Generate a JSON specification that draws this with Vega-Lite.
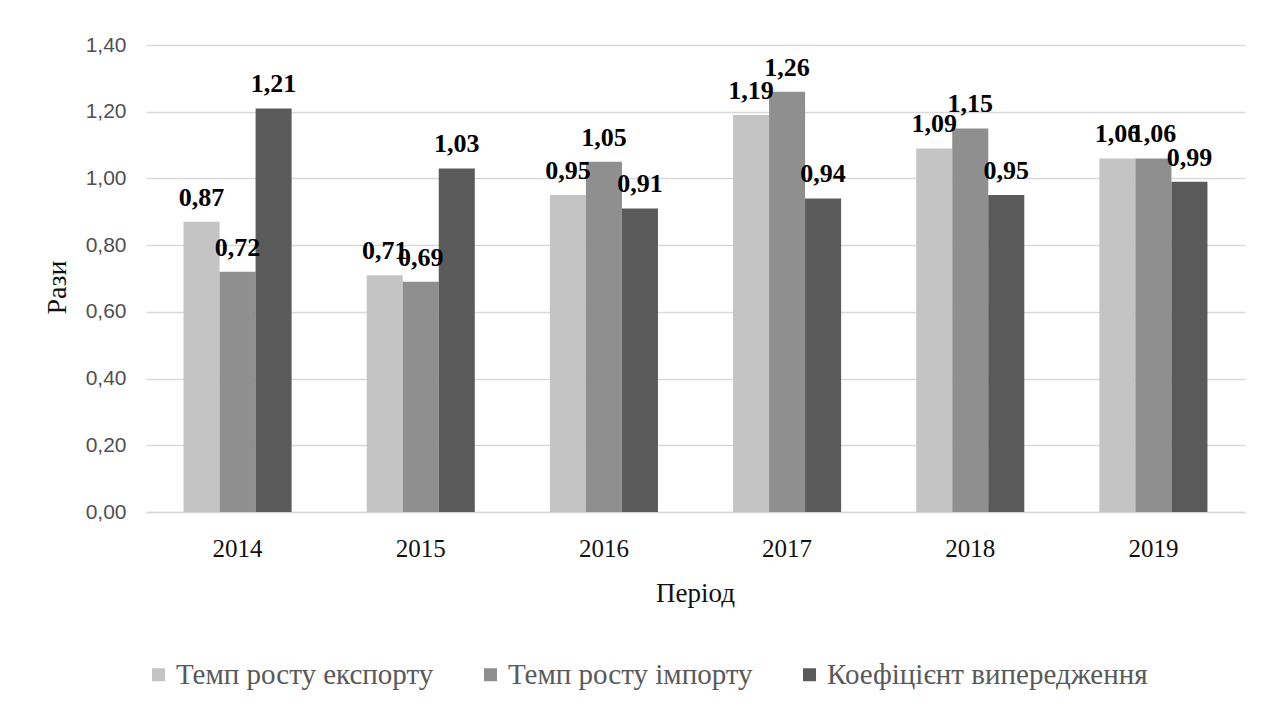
{
  "$schema": "https://vega.github.io/schema/vega-lite/v6.json",
  "autosize": {"type": "none"},
  "width": 1099,
  "height": 467,
  "padding": {"left": 146, "top": 45, "right": 32, "bottom": 206},
  "background": "white",
  "config": {
    "locale": {"number": {"decimal": ",", "thousands": " ", "grouping": [3], "currency": ["", " грн"]}},
    "view": {"stroke": null},
    "font": "Liberation Serif"
  },
  "data": {
    "values": [
      {"year": "2014", "series": "Темп росту експорту", "value": 0.87},
      {"year": "2014", "series": "Темп росту імпорту", "value": 0.72},
      {"year": "2014", "series": "Коефіцієнт випередження", "value": 1.21},
      {"year": "2015", "series": "Темп росту експорту", "value": 0.71},
      {"year": "2015", "series": "Темп росту імпорту", "value": 0.69},
      {"year": "2015", "series": "Коефіцієнт випередження", "value": 1.03},
      {"year": "2016", "series": "Темп росту експорту", "value": 0.95},
      {"year": "2016", "series": "Темп росту імпорту", "value": 1.05},
      {"year": "2016", "series": "Коефіцієнт випередження", "value": 0.91},
      {"year": "2017", "series": "Темп росту експорту", "value": 1.19},
      {"year": "2017", "series": "Темп росту імпорту", "value": 1.26},
      {"year": "2017", "series": "Коефіцієнт випередження", "value": 0.94},
      {"year": "2018", "series": "Темп росту експорту", "value": 1.09},
      {"year": "2018", "series": "Темп росту імпорту", "value": 1.15},
      {"year": "2018", "series": "Коефіцієнт випередження", "value": 0.95},
      {"year": "2019", "series": "Темп росту експорту", "value": 1.06},
      {"year": "2019", "series": "Темп росту імпорту", "value": 1.06},
      {"year": "2019", "series": "Коефіцієнт випередження", "value": 0.99}
    ]
  },
  "encoding": {
    "x": {
      "field": "year", "type": "nominal", "title": "Період",
      "scale": {"paddingInner": 0.41, "paddingOuter": 0.205},
      "axis": {
        "labelAngle": 0, "domain": true, "domainColor": "#d9d9d9", "domainWidth": 1.5, "ticks": false,
        "labelFont": "Liberation Serif", "labelFontSize": 25, "labelColor": "#111111", "labelPadding": 24,
        "titleFont": "Liberation Serif", "titleFontSize": 27, "titleFontWeight": "normal", "titleColor": "#111111",
        "titleX": 549, "titleY": 81, "titleBaseline": "middle", "titleAlign": "center"
      }
    },
    "xOffset": {
      "field": "series", "type": "nominal",
      "sort": ["Темп росту експорту", "Темп росту імпорту", "Коефіцієнт випередження"],
      "scale": {"paddingInner": 0, "paddingOuter": 0}
    },
    "y": {
      "field": "value", "type": "quantitative", "title": "Рази",
      "scale": {"domain": [0, 1.4], "nice": false},
      "axis": {
        "values": [0, 0.2, 0.4, 0.6, 0.8, 1.0, 1.2, 1.4], "format": ".2f",
        "grid": true, "gridColor": "#d9d9d9", "gridWidth": 1.5, "domain": false, "ticks": false,
        "labelFont": "Liberation Sans", "labelFontSize": 21, "labelColor": "#505050", "labelPadding": 20,
        "titleFont": "Liberation Serif", "titleFontSize": 28, "titleFontWeight": "normal", "titleColor": "#111111",
        "titleX": -89, "titleY": 242, "titleAngle": -90, "titleAlign": "center", "titleBaseline": "middle"
      }
    }
  },
  "layer": [
    {
      "mark": {"type": "bar"},
      "encoding": {
        "color": {
          "field": "series", "type": "nominal",
          "scale": {
            "domain": ["Темп росту експорту", "Темп росту імпорту", "Коефіцієнт випередження"],
            "range": ["#c4c4c4", "#8f8f8f", "#5a5a5a"]
          },
          "legend": {
            "orient": "none", "legendX": -2, "legendY": 615, "direction": "horizontal", "title": null,
            "padding": 0, "labelFont": "Liberation Serif", "labelFontSize": 29, "labelColor": "#595959",
            "symbolType": "square", "symbolSize": 169, "symbolStrokeWidth": 0, "columnPadding": 42,
            "labelOffset": 3, "labelLimit": 500
          }
        }
      }
    },
    {
      "mark": {"type": "text", "font": "Liberation Serif", "fontSize": 26, "fontWeight": "bold", "color": "#000000", "baseline": "alphabetic", "align": "center", "dy": -16},
      "encoding": {
        "text": {"field": "value", "type": "quantitative", "format": ".2f"}
      }
    }
  ]
}
